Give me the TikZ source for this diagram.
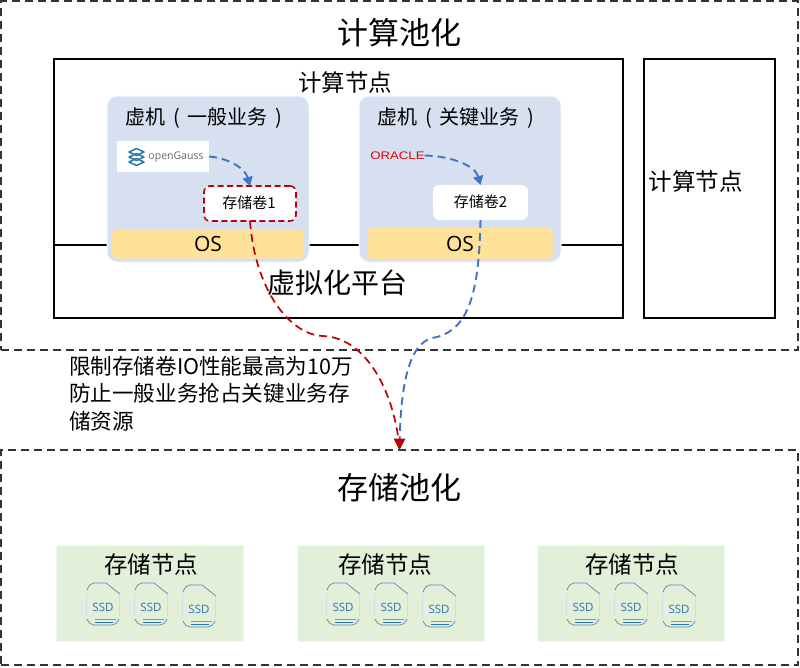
\documentclass[tikz,border=0pt]{standalone}
\usepackage{fontspec}
\setmainfont{Noto Sans CJK SC}
\newfontfamily\latinf{Open Sans}
\newfontfamily\oraclef{Liberation Sans}
\usetikzlibrary{arrows.meta}
\newcommand{\fs}[1]{\fontsize{#1}{#1}\selectfont}
\definecolor{vmblue}{HTML}{D6E0F1}
\definecolor{osyellow}{HTML}{FFE199}
\definecolor{greenbox}{HTML}{E2EFD9}
\definecolor{redline}{HTML}{C00000}
\definecolor{blueline}{HTML}{4472C4}
\definecolor{ssdblue}{HTML}{2E75B6}
\definecolor{dashgray}{HTML}{333333}
\tikzset{
  x=1pt,y=-1pt,
  nw/.style={anchor=north west,inner sep=0pt,outer sep=0pt},
  txt/.style={inner sep=0pt,outer sep=0pt,text=black},
  pool/.style={nw,draw=dashgray,line width=1.3pt,dash pattern=on 8pt off 5pt},
  frame/.style={nw,draw=black,line width=1.6pt},
  vm/.style={nw,fill=vmblue,draw=white!85!vmblue,line width=1pt,rounded corners=10pt},
  osbar/.style={nw,fill=osyellow,rounded corners=5pt},
  volume/.style={nw,fill=white,rounded corners=6pt},
  greenbox/.style={nw,fill=greenbox,draw=white!60!greenbox,line width=.8pt},
  bluelink/.style={draw=blueline,line width=1.9pt,dash pattern=on 8pt off 5pt},
  bluetip/.style={-{Triangle[length=9pt,width=10pt,fill=blueline]}},
  redlink/.style={draw=redline,line width=1.7pt,dash pattern=on 8pt off 5pt},
  ssd/.pic={
    \draw[ssdblue!25,line width=.5pt] (-16.5,-11) -- (-16.5,12);
    \draw[ssdblue!25,line width=.5pt] (16.5,-9) -- (16.5,12);
    \draw[ssdblue!85,line width=.7pt] (-16,-14) .. controls (-14,-19) and (-12,-21) .. (-9,-21) -- (3,-21) -- (17,-10);
    \draw[ssdblue!85,line width=.7pt] (-16,15) .. controls (-14,19) and (-12,21) .. (-9,21) -- (9,21) .. controls (12,21) and (14,19) .. (16,15);
    \draw[ssdblue,line width=.7pt] (-8,18) -- (10,18);
    \draw[ssdblue!70,line width=.6pt] (-8,15.5) -- (13,15.5);
    \node[txt,text=ssdblue] at (0,3) {\fs{11.5}\latinf SSD};
  }
}
\begin{document}
\begin{tikzpicture}
\useasboundingbox (0,0) rectangle (800,667);
\fill[white] (0,0) rectangle (800,667);

% pools
\node[pool,minimum width=797pt,minimum height=349pt] (computepool) at (1,1) {};
\node[pool,minimum width=797pt,minimum height=215pt] (storagepool) at (1,450) {};
\node[txt] (computetitle) at (399.5,33) {\fs{31}计算池化};
\node[txt] (storagetitle) at (399.5,488) {\fs{31}存储池化};

% compute frames
\node[frame,minimum width=569pt,minimum height=259pt] (node1) at (54,59) {};
\node[frame,minimum width=131pt,minimum height=259pt] (node2) at (644,59) {};
\node[txt] (node1label) at (345,83) {\fs{23.5}计算节点};
\node[txt] (node2label) at (695.5,182) {\fs{23.5}计算节点};
\coordinate (lineL) at (54,245);
\coordinate (lineR) at (623,245);
\draw[black,line width=1.6pt] (lineL) -- (lineR);
\node[txt] (virt) at (337.5,283) {\fs{28}虚拟化平台};

% VM 1
\node[vm,minimum width=202pt,minimum height=166pt] (vm1) at (107,96) {};
\node[txt] (vm1label) at (204,118) {\fs{20}虚机\hspace{8pt}(\hspace{7pt}一般业务\hspace{8pt})};
\node[osbar,minimum width=192pt,minimum height=29pt] (os1) at (112,229.5) {};
\node[txt] (os1label) at (208,244) {\fs{21}\latinf OS};
\node[nw,fill=white,minimum width=92pt,minimum height=31pt] (gauss) at (117,141) {};
\foreach \d in {-5,0,5}{
  \draw[ssdblue!80!teal,line width=1.5pt,line join=round] (129,157+\d) -- (136.5,153.5+\d) -- (144,157+\d) -- (136.5,160.5+\d) -- cycle;
}
\node[txt,text=black!60] (gausslabel) at (176,157) {\fs{10.5}\latinf openGauss};
\node[volume,draw=redline,line width=1.6pt,dash pattern=on 6pt off 3.5pt,minimum width=92pt,minimum height=35pt] (vol1) at (204,186) {};
\node[txt] (vol1label) at (249,203) {\fs{15}存储卷1};

% VM 2
\node[vm,minimum width=202pt,minimum height=166pt] (vm2) at (359,96) {};
\node[txt] (vm2label) at (456,118) {\fs{20}虚机\hspace{8pt}(\hspace{7pt}关键业务\hspace{8pt})};
\node[osbar,minimum width=186pt,minimum height=31pt] (os2) at (367,228) {};
\node[txt] (os2label) at (460,243.5) {\fs{21}\latinf OS};
\node[txt,text=red!90!black,xscale=1.2] (oracle) at (397.5,155.5) {\fs{11}\oraclef ORACLE};
\node[volume,minimum width=95pt,minimum height=35pt] (vol2) at (433,185) {};
\node[txt] (vol2label) at (480.5,202) {\fs{15}存储卷2};

% local arrows
\draw[bluelink,bluetip] (gauss.east) .. controls (228,158) and (245,168) .. (vol1.north);
\draw[bluelink,bluetip] (oracle.east) .. controls (450,156) and (475,165) .. (vol2.north);

% long links
\coordinate (sink) at (399.5,450);
\coordinate (redmid) at (323,336);
\coordinate (bluemid) at (432,338);
\draw[bluelink] (vol2.south) .. controls (479,290) and (470,332) .. (bluemid)
      .. controls (405,345) and (400,400) .. (sink);
\draw[redlink] (vol1.south) .. controls (255,290) and (290,335) .. (redmid)
      .. controls (370,338) and (396,400) .. (sink);
\fill[redline] (sink) -- (393.5,438.5) -- (405.5,438.5) -- cycle;

% annotation
\node[nw,text=black,align=left,font=\fs{21.6}] (note) at (69,356) {限制存储卷IO性能最高为10万\\[6pt]防止一般业务抢占关键业务存\\[6pt]储资源};

% storage nodes
\foreach \n/\ox/\lx/\sx in {a/0/151/0,b/241/385/240,c/481/632/480}{
  \node[greenbox,minimum width=187pt,minimum height=96pt] (store\n) at (56+\ox,545) {};
  \node[txt] (store\n label) at (\lx,565) {\fs{23.5}存储节点};
  \pic at (103+\sx,604) {ssd};
  \pic at (151+\sx,604) {ssd};
  \pic at (199+\sx,606) {ssd};
}
\end{tikzpicture}
\end{document}
